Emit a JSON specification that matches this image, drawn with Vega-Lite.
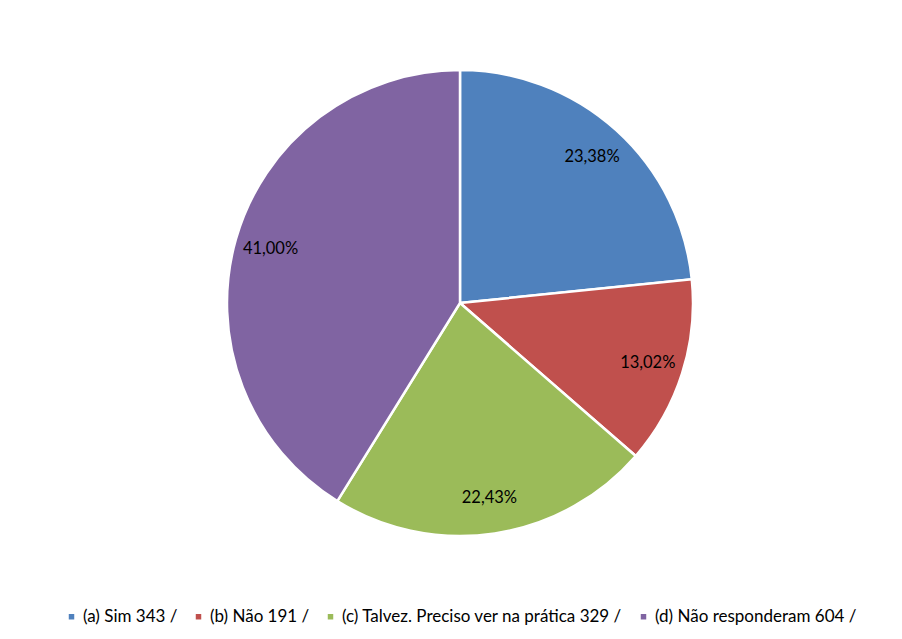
{
  "$schema": "https://vega.github.io/schema/vega-lite/v6.json",
  "width": 906,
  "height": 588,
  "padding": {"left": 7, "top": 9, "right": 0, "bottom": 42},
  "autosize": {"type": "none"},
  "background": "white",
  "view": {"stroke": null},
  "data": {"values": [
    {"categoria": "(a) Sim 343 /", "ordem": 1, "respostas": 343, "rotulo": "23,38%"},
    {"categoria": "(b) Não 191 /", "ordem": 2, "respostas": 191, "rotulo": "13,02%"},
    {"categoria": "(c) Talvez. Preciso ver na prática 329 /", "ordem": 3, "respostas": 329, "rotulo": "22,43%"},
    {"categoria": "(d) Não responderam 604 /", "ordem": 4, "respostas": 604, "rotulo": "41,00%"}
  ]},
  "encoding": {
    "theta": {"field": "respostas", "type": "quantitative", "stack": true},
    "order": {"field": "ordem", "type": "quantitative"}
  },
  "layer": [
    {
      "mark": {"type": "arc", "outerRadius": 233, "stroke": "white", "strokeWidth": 2.5},
      "encoding": {
        "color": {
          "field": "categoria", "type": "nominal",
          "scale": {"range": ["#4F81BD", "#C0504D", "#9BBB59", "#8064A2"]},
          "legend": {
            "title": null, "orient": "none", "direction": "horizontal",
            "legendX": 56, "legendY": 599, "labelLimit": 0,
            "symbolType": "square", "symbolSize": 30, "symbolStrokeWidth": 0,
            "labelFont": "Lato", "labelFontSize": 17, "labelColor": "#000000",
            "columnPadding": 12, "symbolOffset": 0, "labelOffset": 3
          }
        }
      }
    },
    {
      "mark": {"type": "text", "radius": 197, "font": "Lato", "fontSize": 16.5, "color": "#000000", "align": "center", "baseline": "middle"},
      "encoding": {"text": {"field": "rotulo", "type": "nominal"}}
    }
  ]
}
